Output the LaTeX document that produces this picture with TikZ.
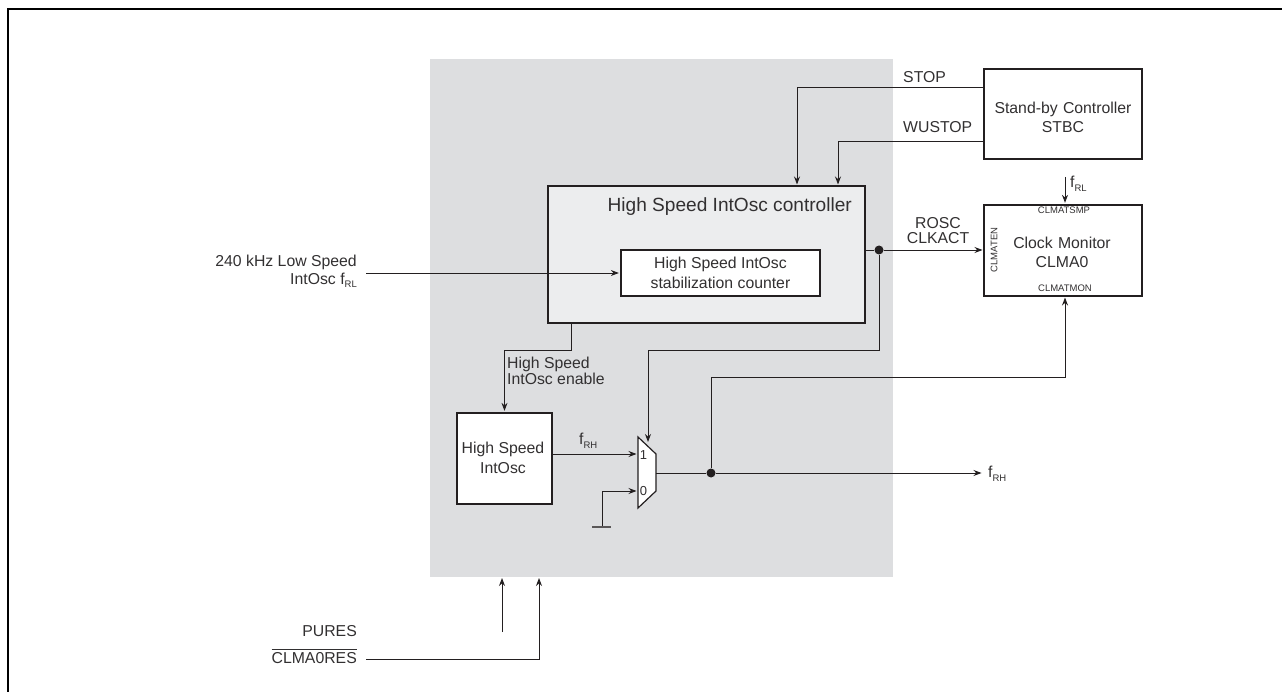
\documentclass[tikz,border=0pt]{standalone}
\usepackage{amsmath, amssymb}
\usepackage{fontspec}
\setmainfont{Liberation Sans}
\usetikzlibrary{arrows.meta}
\definecolor{panelGray}{RGB}{221, 222, 224}
\definecolor{ctrlGray}{RGB}{236, 237, 238}
\definecolor{inkDark}{RGB}{35, 31, 32}
\definecolor{textDark}{RGB}{50, 48, 49}
\newcommand{\sigf}[1]{f\raisebox{-3.5pt}{\fontsize{9.5}{9.5}\selectfont #1}}
\tikzset{
  blockbox/.style={draw=inkDark, line width=1.3pt, fill=white, inner sep=0pt},
  sigline/.style={draw=inkDark, line width=0.95pt},
  sigarrow/.style={sigline, ->, shorten >=1.5pt},
  lbl/.style={inner sep=0pt, text=textDark, font=\fontsize{15.8}{16}\selectfont, align=center},
  tiny/.style={inner sep=0pt, text=textDark, font=\fontsize{9.5}{10}\selectfont},
  junction/.style={circle, fill=inkDark, inner sep=0pt, minimum size=9pt},
}

\begin{document}
\begin{tikzpicture}[x=1pt, y=-1pt, >={Stealth[length=8pt,width=6pt]}]
        \useasboundingbox (0,0) rectangle (1282,692);
        \draw[black, line width=2pt] (7.5,692) -- (7.5,9.5) -- (1282,9.5);
        \fill[panelGray] (430,59) rectangle (893,577);

        % blocks
        \node[blockbox, minimum width=158pt, minimum height=90pt] (stbc) at (1063,114) {};
        \node[blockbox, fill=ctrlGray, minimum width=317pt, minimum height=137pt] (ctrl) at (706.5,254.5) {};
        \node[blockbox, minimum width=199pt, minimum height=46pt] (counter) at (720.5,273) {};
        \node[blockbox, minimum width=158pt, minimum height=91pt] (clma) at (1063,250.5) {};
        \node[blockbox, minimum width=95pt, minimum height=91pt] (hsosc) at (504.5,458.5) {};
        \draw[fill=white, draw=inkDark, line width=1.2pt] (638,437) coordinate (muxtl) -- (656,454)
          -- (656,491) -- (638,508) coordinate (muxbl) -- cycle;

        % block texts
        \node[lbl, text width=158pt] (stbctext) at (1063,117.5) {Stand-by Controller\\[3pt]STBC};
        \node[lbl, anchor=east, font=\fontsize{19.1}{22}\selectfont] (ctrltext) at (852,207) {High Speed IntOsc controller};
        \node[lbl] (countertext) at (720.5,273) {High Speed IntOsc\\[4pt]stabilization counter};
        \node[lbl, text width=158pt] (clmatext) at (1062,252.5) {Clock Monitor\\[3pt]CLMA0};
        \node[lbl] (hsosctext) at (503,458) {High Speed\\[4pt]IntOsc};
        \node[tiny] (smp) at (1064,210) {CLMATSMP};
        \node[tiny] (mon) at (1065,288) {CLMATMON};
        \node[tiny, rotate=90] (ten) at (994,250) {CLMATEN};
        \node[lbl, font=\fontsize{13}{14}\selectfont] (muxone) at (643.5,455) {1};
        \node[lbl, font=\fontsize{13}{14}\selectfont] (muxzero) at (643.5,491) {0};

        % free ends and bends
        \coordinate (stopout) at (984,87);
        \coordinate (stopin) at (797,186);
        \coordinate (wuout) at (984,141);
        \coordinate (wuin) at (838,186);
        \coordinate (frlin) at (366,273);
        \coordinate (rlstart) at (1065,177);
        \coordinate (enout) at (571,323);
        \coordinate (ctrlout) at (865,250);
        \coordinate (clmain) at (984,250);
        \coordinate (selbend) at (879,350);
        \coordinate (selin) at (648,443.5);
        \coordinate (frhin) at (638,454);
        \coordinate (frhout) at (552,454);
        \coordinate (zeroin) at (638,491);
        \coordinate (gnd) at (602,527);
        \coordinate (monin) at (1065,296);
        \coordinate (muxout) at (656,473);
        \coordinate (frhend) at (983,473);
        \coordinate (puresstart) at (502,632);
        \coordinate (puresend) at (502,578);
        \coordinate (resstart) at (366,659);
        \coordinate (resend) at (539,578);
        \coordinate (bar-l) at (592,527);
        \coordinate (bar-r) at (611,527);

        % connectors
        \node[junction] (dotctrl) at (879,250) {};
        \node[junction] (dotmux) at (711,473) {};
        \draw[sigarrow] (stopout) -| (stopin);
        \draw[sigarrow] (wuout) -| (wuin);
        \draw[sigarrow] (rlstart) -- (rlstart |- clma.north);
        \draw[sigarrow] (frlin) -- (frlin -| counter.west);
        \draw[sigarrow] (enout) |- (hsosc.north |- selbend) -- (hsosc.north);
        \draw[sigline] (ctrlout) -- (dotctrl);
        \draw[sigarrow] (dotctrl) -- (clmain);
        \draw[sigarrow] (dotctrl) |- (selin |- selbend) -- (selin);
        \draw[sigarrow] (frhout) -- (frhin);
        \draw[sigarrow] (gnd) |- (zeroin);
        \draw[draw=inkDark!75, line width=1.5pt] (bar-l) -- (bar-r);
        \draw[sigline] (muxout) -- (dotmux);
        \draw[sigarrow] (dotmux) -- (frhend);
        \draw[sigarrow] (dotmux) |- (monin |- 0,377) -- (monin);
        \draw[sigarrow, shorten >=0pt] (puresstart) -- (puresend);
        \draw[sigarrow, shorten >=0pt] (resstart) -| (resend);

        % signal labels
        \node[lbl, anchor=west] (stoplbl) at (903,77) {STOP};
        \node[lbl, anchor=west] (wulbl) at (903,127) {WUSTOP};
        \node[lbl, font=\fontsize{15.8}{15}\selectfont] (rosclbl) at (938,230.5) {ROSC\\CLKACT};
        \node[lbl, anchor=west] (frltop) at (1070,184) {\sigf{RL}};
        \node[lbl, align=right, anchor=east] (oscin) at (357,271.5) {240 kHz Low Speed\\[2pt]IntOsc \sigf{RL}};
        \node[lbl, align=left, anchor=west] (enlbl) at (507,371) {High Speed\\IntOsc enable};
        \node[lbl, anchor=west] (frhlbl) at (579,441) {\sigf{RH}};
        \node[lbl, anchor=west] (frhright) at (988,474) {\sigf{RH}};
        \node[lbl, anchor=east] (pureslbl) at (357,631) {PURES};
        \node[lbl, anchor=east] (reslbl) at (357,656) {$\overline{\mbox{CLMA0RES}}$};
      \end{tikzpicture}
\end{document}
